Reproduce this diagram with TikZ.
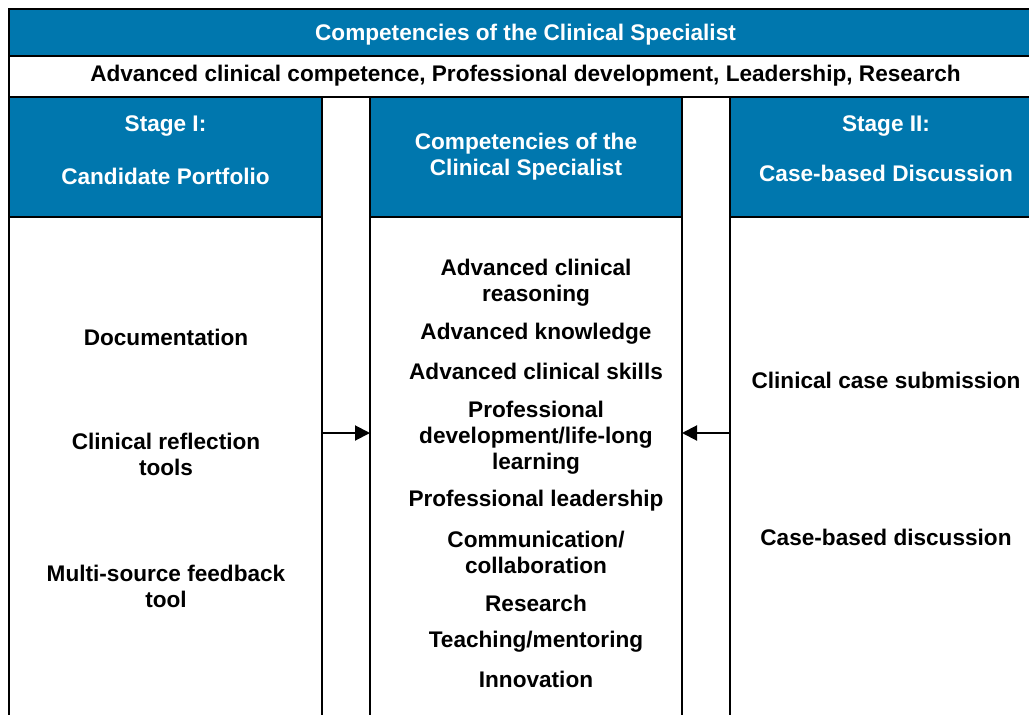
\documentclass[tikz,border=0pt]{standalone}
\usepackage{fontspec}
\setmainfont{Liberation Sans}
\usetikzlibrary{arrows.meta, positioning, calc}
\definecolor{cspblue}{RGB}{0,119,174}

\tikzset{
  frame/.style={draw=black, line width=2pt, inner sep=0pt, outer sep=0pt},
  hdr/.style={frame, fill=cspblue, text=white},
  txt/.style={align=center, inner sep=0pt, font=\bfseries\fontsize{22.6}{26}\selectfont},
  arr/.style={line width=2pt, -{Triangle[length=15pt,width=15pt]}}
}

\begin{document}
\begin{tikzpicture}[x=1pt,y=-1pt,line cap=butt]
  \useasboundingbox (0,0) rectangle (1029,715);
  \clip (0,0) rectangle (1029,715);
  \fill[white] (0,0) rectangle (1029,715);

  % --- Titolo e riga delle competenze ---
  \node[hdr, minimum width=1033pt, minimum height=47pt] (title) at (525.5,32.5) {};
  \node[txt, text=white] (titletxt) at (525.5,34.5) {Competencies of the Clinical Specialist};
  \node[frame, minimum width=1033pt, minimum height=41pt, anchor=north] (sub) at (title.south) {};
  \node[txt] (subtxt) at (525.5,75.5) {Advanced clinical competence, Professional development, Leadership, Research};

  % --- Intestazioni delle tre colonne ---
  \node[hdr, minimum width=313pt, minimum height=120pt] (h1) at (165.5,157) {};
  \node[hdr, minimum width=312pt, minimum height=120pt] (h2) at (526,157) {};
  \node[hdr, minimum width=312pt, minimum height=120pt] (h3) at (886,157) {};
  \node[txt, text=white] (h1txt) at (165.5,150) {Stage I:\\[27pt]Candidate Portfolio};
  \node[txt, text=white] (h2txt) at (526,157) {Competencies of the\\Clinical Specialist};
  \node[txt, text=white] (h3txt) at (886,148.5) {Stage II:\\[24pt]Case-based Discussion};

  % --- Corpo delle colonne ---
  \node[frame, minimum width=313pt, minimum height=540pt, anchor=north] (b1) at (h1.south) {};
  \node[frame, minimum width=312pt, minimum height=540pt, anchor=north] (b2) at (h2.south) {};
  \node[frame, minimum width=312pt, minimum height=540pt, anchor=north] (b3) at (h3.south) {};

  % --- Stage I ---
  \node[txt] (doc) at (166,337.5) {Documentation};
  \node[txt] (refl) at (166,454.5) {Clinical reflection\\tools};
  \node[txt] (msf) at (166,586.5) {Multi-source feedback\\tool};

  % --- Competenze ---
  \foreach \yy/\txt [count=\i] in {282.5/{Advanced clinical\\reasoning},
      333.5/{Advanced knowledge}, 371.5/{Advanced clinical skills},
      437.5/{Professional\\development/life-long\\learning},
      500.5/{Professional leadership}, 552.5/{Communication/\\collaboration},
      603.5/{Research}, 641.5/{Teaching/mentoring}, 679/{Innovation}}
    \node[txt] (m\i) at (536,\yy) {\txt};

  % --- Stage II ---
  \node[txt] (sub1) at (886,380.5) {Clinical case submission};
  \node[txt] (sub2) at (886,537.5) {Case-based discussion};

  % --- Frecce ---
  \coordinate (ar) at (0,433);
  \draw[arr] (b1.east |- ar) -- (b2.west |- ar);
  \draw[arr] (b3.west |- ar) -- (b2.east |- ar);
\end{tikzpicture}
\end{document}
